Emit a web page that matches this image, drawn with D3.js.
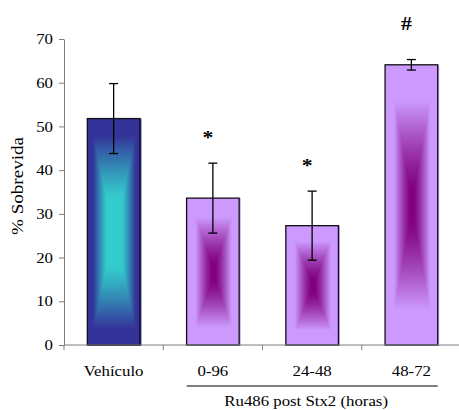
<!DOCTYPE html>
<html>
<head>
<meta charset="utf-8">
<script src="https://cdn.jsdelivr.net/npm/d3@7"></script>
<style>
  html, body { margin: 0; padding: 0; background: #fff; }
  svg { display: block; font-family: "Liberation Serif", "Times New Roman", serif; }
</style>
</head>
<body>
<svg id="chart" width="459" height="410"></svg>
<script>
// Survival (%) per treatment group
const categories = ["Vehículo", "0-96", "24-48", "48-72"];
const values = [51.8, 33.6, 27.3, 64.1];
const errors = [8.0, 8.0, 7.9, 1.2];
const marks = ["", "*", "*", "#"];
const yTicks = [0, 10, 20, 30, 40, 50, 60, 70];
const yLabel = "% Sobrevida";
const groupLabel = "Ru486 post Stx2 (horas)";

// Fill styles: edge colour and centre colour of the "from centre" gradient
const fills = [
  { edge: "#333399", centre: "#33cccc", x0: 0.28, x1: 0.78, y0: 0.3, y1: 0.85, p: 1.2 },
  { edge: "#cc99ff", centre: "#800080", x0: 0.06, x1: 0.66, y0: 0.1, y1: 0.74, p: 1.25 },
  { edge: "#cc99ff", centre: "#800080", x0: 0.06, x1: 0.66, y0: 0.1, y1: 0.74, p: 1.25 },
  { edge: "#cc99ff", centre: "#800080", x0: 0.06, x1: 0.66, y0: 0.1, y1: 0.74, p: 1.25 }
];
const markStyle = { "*": { size: 18, dy: -19, weight: "bold" }, "#": { size: 18, dy: -30, weight: "bold" } };
const stretch = 1.2; // horizontal text stretch

const svg = d3.select("#chart");
const margin = { left: 64, right: -2, top: 39, bottom: 65 };
const W = 459, H = 410;

const x = d3.scaleBand()
  .domain(categories)
  .range([margin.left, W - margin.right])
  .paddingInner(0.47)
  .paddingOuter(0.235);

const y = d3.scaleLinear()
  .domain([0, 70])
  .range([H - margin.bottom, margin.top]);

const axisColor = "#7f7f7f";

// Bars: gradient fills rendered to a canvas, then placed as images
function gradientImage(w, h, f) {
  const c = document.createElement("canvas");
  const cw = Math.max(1, Math.round(w)), ch = Math.max(1, Math.round(h));
  c.width = cw; c.height = ch;
  const ctx = c.getContext("2d");
  const img = ctx.createImageData(cw, ch);
  const ce = d3.color(f.centre).rgb(), ed = d3.color(f.edge).rgb();
  const ramp = (v, a, b) => Math.pow(Math.max(0, Math.min(1, (v - a) / (b - a))), f.p);
  for (let j = 0; j < ch; j++) {
    const ty = Math.abs((j + 0.5) - ch / 2) / (ch / 2);
    for (let i = 0; i < cw; i++) {
      const tx = Math.abs((i + 0.5) - cw / 2) / (cw / 2);
      const t = Math.max(ramp(tx, f.x0, f.x1), ramp(ty, f.y0, f.y1));
      const k = (j * cw + i) * 4;
      img.data[k] = ce.r + (ed.r - ce.r) * t;
      img.data[k + 1] = ce.g + (ed.g - ce.g) * t;
      img.data[k + 2] = ce.b + (ed.b - ce.b) * t;
      img.data[k + 3] = 255;
    }
  }
  ctx.putImageData(img, 0, 0);
  return c.toDataURL();
}

const bars = svg.append("g").attr("class", "bars");
categories.forEach((cat, i) => {
  const bx = x(cat), bw = x.bandwidth();
  const by = y(values[i]), bh = y(0) - y(values[i]);
  bars.append("image")
    .attr("x", bx).attr("y", by)
    .attr("width", bw + 1.5).attr("height", bh + 1)
    .attr("preserveAspectRatio", "none")
    .attr("href", gradientImage(bw + 1.5, bh + 1, fills[i]));
  bars.append("rect")
    .attr("x", bx).attr("y", by)
    .attr("width", bw).attr("height", bh)
    .attr("fill", "none")
    .attr("stroke", "#111")
    .attr("stroke-width", 1.3);
});

// Error bars
const eb = svg.append("g").attr("class", "errorbars")
  .attr("stroke", "#000").attr("stroke-width", 1.3);
categories.forEach((cat, i) => {
  const cx = x(cat) + x.bandwidth() / 2;
  const hi = y(values[i] + errors[i]), lo = y(values[i] - errors[i]);
  eb.append("line").attr("x1", cx).attr("x2", cx).attr("y1", hi).attr("y2", lo);
  eb.append("line").attr("x1", cx - 4.5).attr("x2", cx + 4.5).attr("y1", hi).attr("y2", hi);
  eb.append("line").attr("x1", cx - 4.5).attr("x2", cx + 4.5).attr("y1", lo).attr("y2", lo);
});

// Significance marks
categories.forEach((cat, i) => {
  if (!marks[i]) return;
  const st = markStyle[marks[i]];
  const cx = x(cat) + x.bandwidth() / 2 - 5;
  svg.append("text")
    .attr("transform", `translate(${cx},${y(values[i] + errors[i]) + st.dy}) scale(${stretch},1)`)
    .attr("text-anchor", "middle")
    .attr("font-size", st.size)
    .attr("font-weight", st.weight)
    .attr("fill", "#000")
    .text(marks[i]);
});

// Y axis
const yAxis = svg.append("g")
  .attr("transform", `translate(${margin.left},0)`)
  .call(d3.axisLeft(y).tickValues(yTicks).tickSize(5).tickPadding(0).tickSizeOuter(0));
yAxis.attr("font-family", null);
yAxis.select(".domain").attr("stroke", axisColor);
yAxis.selectAll(".tick line").attr("stroke", axisColor);
yAxis.selectAll(".tick text")
  .attr("font-size", 14)
  .attr("fill", "#000")
  .attr("dy", "0.33em")
  .attr("x", -11 / stretch)
  .attr("transform", `scale(${stretch},1)`);

// X axis: baseline with ticks at category boundaries
const xAxis = svg.append("g").attr("class", "x-axis");
const x0 = x.range()[0], x1 = x.range()[1];
xAxis.append("line")
  .attr("x1", x0).attr("x2", x1)
  .attr("y1", y(0)).attr("y2", y(0))
  .attr("stroke", axisColor);
d3.range(categories.length + 1).forEach(k => {
  const tx = x0 + k * x.step();
  xAxis.append("line")
    .attr("x1", tx).attr("x2", tx)
    .attr("y1", y(0)).attr("y2", y(0) + 5)
    .attr("stroke", axisColor);
});

// Category labels
categories.forEach(cat => {
  svg.append("text")
    .attr("transform", `translate(${x(cat) + x.bandwidth() / 2},${y(0) + 31}) scale(${stretch},1)`)
    .attr("text-anchor", "middle")
    .attr("font-size", 14)
    .attr("fill", "#000")
    .text(cat);
});

// Group bracket for the Ru486 treatments
const gx0 = x(categories[1]), gx1 = x(categories[3]) + x.bandwidth();
svg.append("line")
  .attr("x1", gx0).attr("x2", gx1)
  .attr("y1", y(0) + 41).attr("y2", y(0) + 41)
  .attr("stroke", "#000").attr("stroke-width", 1.2);
svg.append("text")
  .attr("transform", `translate(${(gx0 + gx1) / 2 - 6},${y(0) + 61}) scale(${stretch},1)`)
  .attr("text-anchor", "middle")
  .attr("font-size", 14)
  .attr("fill", "#000")
  .text(groupLabel);

// Y axis title
svg.append("text")
  .attr("transform", `translate(23,${(y(0) + y(70)) / 2 - 6}) rotate(-90) scale(1,${stretch})`)
  .attr("text-anchor", "middle")
  .attr("font-size", 14)
  .attr("fill", "#000")
  .attr("textLength", 98)
  .attr("lengthAdjust", "spacingAndGlyphs")
  .text(yLabel);
</script>
</body>
</html>
